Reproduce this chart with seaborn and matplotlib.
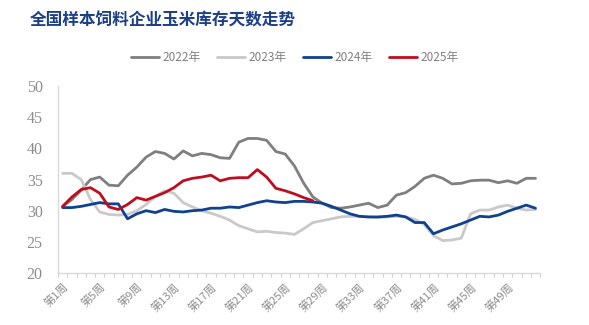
import numpy as np
import pandas as pd
import matplotlib
matplotlib.use("Agg")
import matplotlib.pyplot as plt
from matplotlib.ticker import FixedLocator
import seaborn as sns

# Weekly corn inventory days at sample feed mills (days)
weeks = list(range(1, 53))
y2022 = [30.7, 31.8, 33.3, 35.0, 35.4, 34.1, 34.0, 35.7, 37.0, 38.6,
         39.5, 39.2, 38.3, 39.6, 38.8, 39.2, 39.0, 38.5, 38.4, 41.0,
         41.6, 41.6, 41.3, 39.5, 39.1, 37.2, 34.4, 32.2, 31.2, 30.5,
         30.4, 30.6, 30.9, 31.2, 30.5, 30.9, 32.5, 32.9, 33.9, 35.2,
         35.7, 35.2, 34.3, 34.4, 34.8, 34.9, 34.9, 34.5, 34.8, 34.4,
         35.2, 35.2]
y2023 = [36.0, 36.0, 35.0, 31.8, 29.8, 29.4, 29.3, 29.4, 30.0, 31.0,
         32.3, 33.2, 32.8, 31.3, 30.6, 30.0, 29.6, 29.1, 28.5, 27.6,
         27.1, 26.6, 26.7, 26.5, 26.4, 26.2, 27.1, 28.1, 28.4, 28.7,
         29.0, 29.1, 29.1, 29.0, 28.9, 29.0, 29.1, 29.0, 28.6, 27.8,
         26.0, 25.2, 25.3, 25.6, 29.5, 30.1, 30.1, 30.6, 30.9, 30.4,
         30.1, 30.2]
y2024 = [30.5, 30.5, 30.7, 31.0, 31.3, 31.1, 31.1, 28.7, 29.5, 30.0,
         29.7, 30.2, 29.9, 29.8, 30.0, 30.1, 30.4, 30.4, 30.6, 30.5,
         30.9, 31.3, 31.6, 31.4, 31.3, 31.5, 31.5, 31.4, 31.2, 30.7,
         30.1, 29.5, 29.1, 29.0, 29.0, 29.1, 29.3, 29.0, 28.1, 28.1,
         26.3, 26.9, 27.4, 27.9, 28.5, 29.1, 29.0, 29.3, 29.9, 30.4,
         30.9, 30.4]
y2025 = [30.7, 32.2, 33.4, 33.7, 32.8, 30.6, 30.2, 31.0, 32.1, 31.7,
         32.3, 32.9, 33.7, 34.8, 35.2, 35.4, 35.7, 34.8, 35.2, 35.3,
         35.3, 36.6, 35.4, 33.6, 33.2, 32.7, 32.1, 31.6]

series_names = ["2022年", "2023年", "2024年", "2025年"]
tick_weeks = list(range(1, 53, 4))
tick_labels = [f"第{w}周" for w in tick_weeks]
y_ticks = [20, 25, 30, 35, 40, 45, 50]

frames = []
for name, vals in zip(series_names, [y2022, y2023, y2024, y2025]):
    frames.append(pd.DataFrame({"周": weeks[:len(vals)], "天数": vals, "年份": name}))
df = pd.concat(frames, ignore_index=True)

palette = {"2022年": "#7f7f7f", "2023年": "#c9c9c9",
           "2024年": "#0f418f", "2025年": "#c00d1e"}

sns.set_theme(style="white")
plt.rcParams["font.family"] = ["Noto Sans CJK SC", "DejaVu Sans"]

fig = plt.figure(figsize=(5.89, 3.25), dpi=100)
ax = fig.add_axes([0.0985, 0.16, 0.8185, 0.575])

sns.lineplot(data=df, x="周", y="天数", hue="年份", hue_order=series_names,
             palette=palette, linewidth=2.0, ax=ax, sort=False,
             estimator=None, legend=True)

handles, labels = ax.get_legend_handles_labels()
ax.get_legend().remove()

ax.set_xlim(0.5, 52.5)
ax.set_ylim(20, 50)
ax.set_xlabel("")
ax.set_ylabel("")

# y axis: serif grey numbers, no tick marks
ax.set_yticks(y_ticks)
ax.set_yticklabels([str(v) for v in y_ticks], family=["Liberation Serif"],
                   fontsize=11.5, color="#8c8c8c")
ax.tick_params(axis="y", length=0, pad=11)

# x axis: category labels every 4 weeks, small marks between weeks
ax.set_xticks(tick_weeks)
ax.set_xticklabels(tick_labels, rotation=45, ha="right",
                   rotation_mode="anchor", fontsize=8, color="#8c8c8c")
ax.xaxis.set_minor_locator(FixedLocator(np.arange(0.5, 53, 1.0)))
ax.tick_params(axis="x", which="major", length=0, pad=6)
ax.tick_params(axis="x", which="minor", length=3, width=0.8,
               color="#d0d0d0", direction="out", bottom=True)

for side in ["top", "right"]:
    ax.spines[side].set_visible(False)
for side in ["left", "bottom"]:
    ax.spines[side].set_color("#d9d9d9")
    ax.spines[side].set_linewidth(1.0)
ax.grid(False)

fig.legend(handles, labels, loc="center", bbox_to_anchor=(0.5, 0.822),
           ncol=4, frameon=False, fontsize=8.5, handlelength=2.4,
           handletextpad=0.25, columnspacing=1.4, labelcolor="#7f7f7f")

fig.text(0.051, 0.938, "全国样本饲料企业玉米库存天数走势", fontsize=12,
         fontweight="bold", color="#1c3f87", ha="left", va="center")

fig.savefig("out.png", dpi=100)
